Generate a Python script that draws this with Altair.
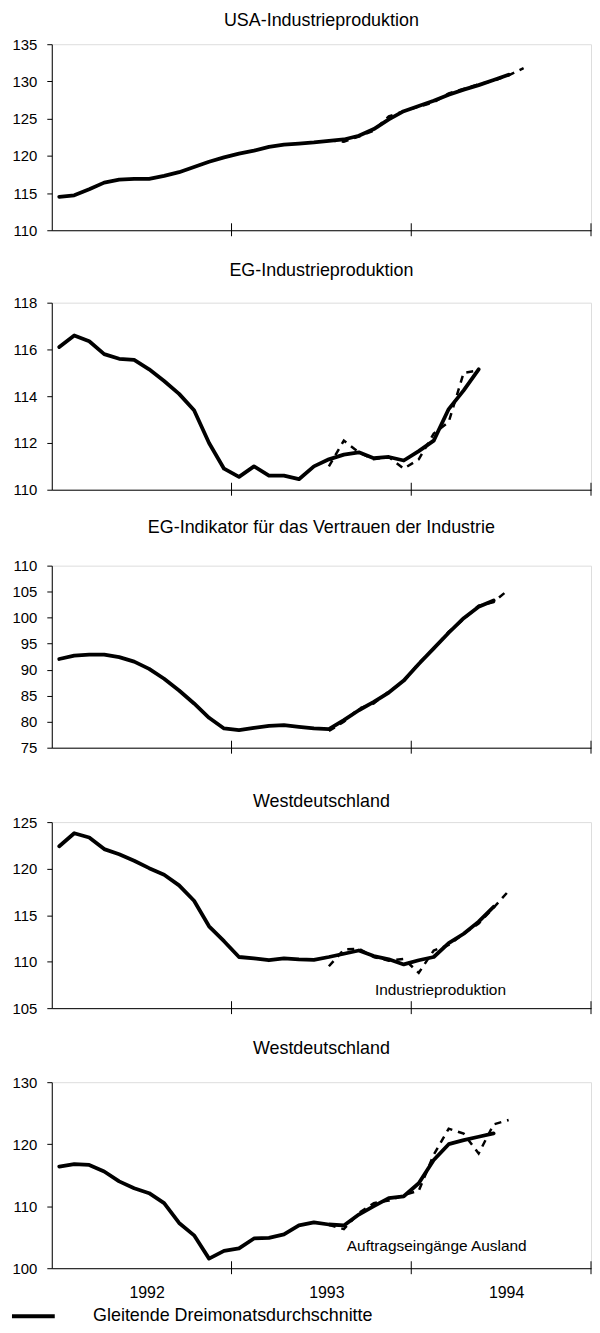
import altair as alt
import pandas as pd

FONT = "Liberation Sans"
LEGEND_LABEL = "Gleitende Dreimonatsdurchschnitte"

# Titles of the five panels
titles = [
    "USA-Industrieproduktion",
    "EG-Industrieproduktion",
    "EG-Indikator für das Vertrauen der Industrie",
    "Westdeutschland",
    "Westdeutschland",
]

# Three-month moving averages, monthly from Jan 1992
usa_ma = [114.5, 114.7, 115.5, 116.4, 116.8, 116.9, 116.9, 117.3, 117.8, 118.5,
          119.2, 119.8, 120.3, 120.7, 121.2, 121.5, 121.65, 121.8, 122.0, 122.2,
          122.7, 123.6, 124.9, 126.0, 126.7, 127.4, 128.2, 128.9, 129.5, 130.2, 130.9]
eg_ma = [116.1, 116.6, 116.35, 115.8, 115.6, 115.55, 115.15, 114.65, 114.1, 113.4,
         112.0, 110.9, 110.55, 111.0, 110.6, 110.6, 110.45, 111.0, 111.3, 111.5,
         111.6, 111.35, 111.4, 111.25, 111.65, 112.1, 113.45, 114.25, 115.15]
conf_ma = [92.05, 92.7, 92.9, 92.9, 92.4, 91.55, 90.15, 88.25, 86.0, 83.5,
           80.75, 78.7, 78.4, 78.8, 79.2, 79.35, 79.0, 78.7, 78.55, 80.3,
           82.2, 83.8, 85.6, 87.9, 91.1, 94.1, 97.1, 99.9, 102.1, 103.3]
wd_ip_ma = [122.4, 123.8, 123.35, 122.1, 121.55, 120.85, 120.05, 119.35, 118.2, 116.55,
            113.8, 112.2, 110.5, 110.35, 110.15, 110.35, 110.25, 110.2, 110.5, 110.85,
            111.2, 110.6, 110.25, 109.7, 110.15, 110.5, 112.0, 113.0, 114.3, 115.9]
wd_ao_ma = [116.4, 116.8, 116.65, 115.6, 114.0, 112.9, 112.1, 110.5, 107.3, 105.3,
            101.55, 102.8, 103.2, 104.8, 104.9, 105.45, 106.9, 107.4, 107.05, 106.9,
            108.65, 110.0, 111.3, 111.6, 113.7, 117.45, 120.0, 120.65, 121.2, 121.75]

# Monthly values (dashed), starting July 1993
monthly_start = 18
usa_mo = [122.1, 121.9, 122.6, 123.4, 125.3, 126.0, 126.6, 127.2, 128.4, 129.0,
          129.6, 130.1, 130.8, 131.8]
eg_mo = [111.0, 112.1, 111.6, 111.3, 111.4, 110.9, 111.3, 112.4, 112.9, 115.0, 115.1]
conf_mo = [78.2, 80.0, 82.5, 83.5, 85.8, 87.7, 91.3, 94.0, 97.3, 99.7, 102.3, 103.0, 105.4]
wd_ip_mo = [109.5, 111.3, 111.4, 110.5, 110.1, 110.3, 108.8, 111.2, 111.8, 113.0,
            114.1, 115.8, 117.6]
wd_ao_mo = [107.0, 106.3, 108.9, 110.5, 110.9, 111.8, 112.5, 118.3, 122.5, 121.7,
            118.5, 123.2, 123.9]

# y-axis domains and ticks
y_domains = [[110, 135], [110, 118], [75, 110], [105, 125], [100, 130]]
y_steps = [5, 2, 5, 5, 5]

# Year boundaries (months since Jan 1992) and year label positions (mid-year)
year_bounds = [12, 24, 36]
year_mids = [6, 18, 30]

# Annotations (text, month, value)
notes = [None, None, None,
         ("Industrieproduktion", 25.95, 106.9),
         ("Auftragseingänge Ausland", 25.7, 103.5)]

W = 542
heights = [187, 188, 183, 187, 187]
title_offsets = [6.9, 15.4, 22.2, 4.2, 17.2]
spacings = [22.8, 19.3, 35.8, 22.4]

legend = alt.Legend(
    title=None, orient="none", legendX=-42, legendY=1255,
    symbolType="stroke", symbolSize=1849, symbolStrokeWidth=4,
    labelFontSize=18, labelFont=FONT, labelColor="black", labelOffset=36.5,
    labelLimit=0, padding=0,
)


def panel(k, ma, mo):
    h = heights[k]
    lo, hi = y_domains[k]
    show_years = k == 4
    df_ma = pd.DataFrame({"m": [i + 0.5 for i in range(len(ma))], "v": ma,
                          "s": LEGEND_LABEL})
    df_mo = pd.DataFrame({"m": [monthly_start + i + 0.5 for i in range(len(mo))], "v": mo})
    xscale = alt.Scale(domain=[0, 36], nice=False, zero=False)
    yscale = alt.Scale(domain=[lo, hi], nice=False, zero=False)
    xaxis = alt.Axis(
        values=year_mids, ticks=False, grid=False, title=None,
        labels=show_years, labelExpr="'' + (1992 + floor(datum.value / 12))",
        labelFontSize=16, labelFont=FONT, labelColor="black",
        labelPadding=16.5, labelOffset=5, domainColor="black", domainWidth=1,
    )
    yaxis = alt.Axis(
        values=list(range(lo, hi + 1, y_steps[k])), tickSize=5, labelPadding=10,
        grid=False, title=None, labelFontSize=15, labelFont=FONT,
        labelColor="black", tickColor="black", domainColor="black",
    )
    dash = alt.Chart(df_mo).mark_line(
        color="black", strokeWidth=2.5, strokeDash=[7, 6]
    ).encode(x=alt.X("m:Q", scale=xscale, axis=xaxis), y=alt.Y("v:Q", scale=yscale, axis=yaxis))
    solid = alt.Chart(df_ma).mark_line(
        strokeWidth=3.8, strokeJoin="round", strokeCap="round"
    ).encode(
        x=alt.X("m:Q", scale=xscale, axis=xaxis),
        y=alt.Y("v:Q", scale=yscale, axis=yaxis),
        color=alt.Color("s:N", scale=alt.Scale(range=["black"]), legend=legend),
    )
    ticks = alt.Chart(pd.DataFrame({"m": year_bounds})).mark_rule(
        color="black", strokeWidth=1
    ).encode(x=alt.X("m:Q", scale=xscale), y=alt.value(h - 7), y2=alt.value(h + 6))
    layers = [dash, solid, ticks]
    if notes[k]:
        t, mx, vy = notes[k]
        layers.append(
            alt.Chart(pd.DataFrame({"m": [mx], "v": [vy], "t": [t]})).mark_text(
                font=FONT, fontSize=15.5, color="black", align="center", baseline="middle"
            ).encode(x=alt.X("m:Q", scale=xscale), y=alt.Y("v:Q", scale=yscale), text="t:N")
        )
    return alt.layer(*layers).properties(
        width=W, height=h,
        title=alt.Title(titles[k], offset=title_offsets[k], fontSize=18, font=FONT,
                        fontWeight="normal", color="black", anchor="middle"),
    )


series = [(usa_ma, usa_mo), (eg_ma, eg_mo), (conf_ma, conf_mo),
          (wd_ip_ma, wd_ip_mo), (wd_ao_ma, wd_ao_mo)]
p = [panel(k, ma, mo) for k, (ma, mo) in enumerate(series)]


def shared(c):
    return c.resolve_scale(color="shared").resolve_legend(color="shared")


inner = shared(alt.vconcat(p[3], p[4], spacing=spacings[3]))
inner = shared(alt.vconcat(p[2], inner, spacing=spacings[2]))
inner = shared(alt.vconcat(p[1], inner, spacing=spacings[1]))
chart = shared(alt.vconcat(p[0], inner, spacing=spacings[0]))

chart = chart.properties(
    padding={"left": 2, "top": 0, "right": 0, "bottom": 0}
).configure_view(stroke=None).configure(background="white")

chart.save("out.html", embed_options={"renderer": "svg", "actions": False})
